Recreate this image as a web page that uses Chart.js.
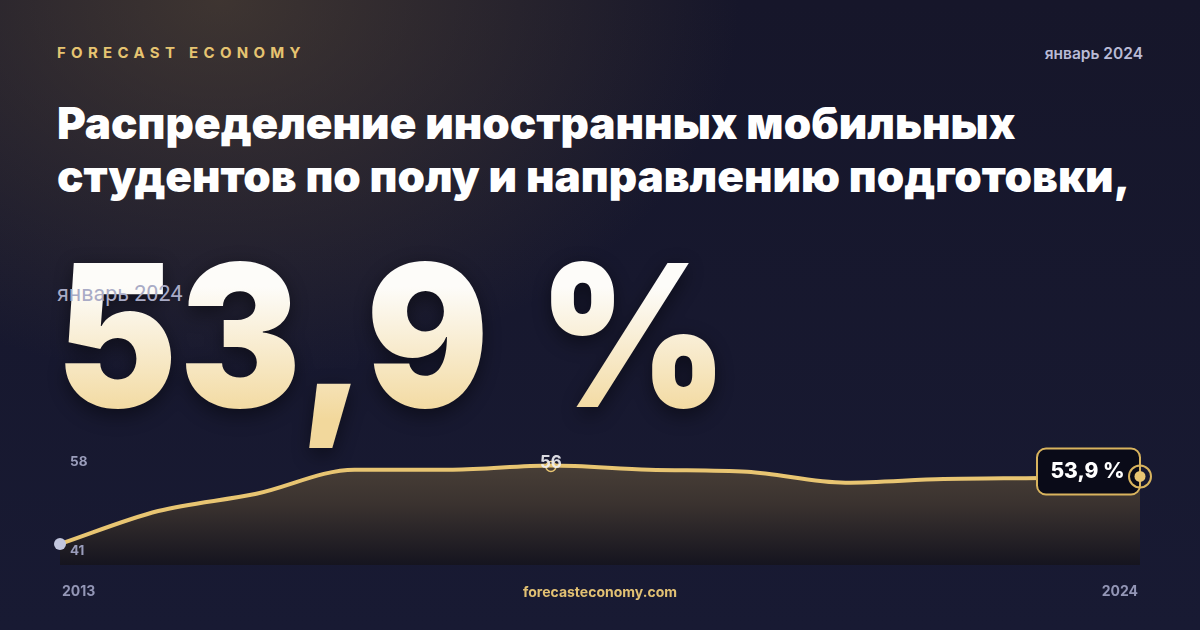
<!DOCTYPE html>
<html lang="ru">
<head>
<meta charset="utf-8">
<script src="https://cdn.jsdelivr.net/npm/chart.js@4/dist/chart.umd.min.js"></script>
<style>
    html, body { margin: 0; padding: 0; }
    body {
        width: 1200px;
        height: 630px;
        overflow: hidden;
        position: relative;
        font-family: Inter, "Noto Sans", sans-serif;
        background:
            radial-gradient(ellipse 520px 380px at 220px 0px, rgba(95, 78, 55, 0.55), rgba(95, 78, 55, 0) 100%),
            linear-gradient(180deg, #16162a 0%, #181a33 100%);
    }
    #brand {
        position: absolute; left: 57px; top: 43px;
        color: #e6c471; font-weight: 700; font-size: 15px; letter-spacing: 5.3px;
    }
    #date-top {
        position: absolute; right: 57px; top: 44px;
        color: #b9bbd6; font-weight: 600; font-size: 15.5px;
    }
    #title {
        position: absolute; left: 57px; top: 97px; width: 1140px;
        color: #ffffff; font-weight: 900; font-size: 44px; line-height: 53px;
        white-space: nowrap;
    }
    #big {
        position: absolute; left: 56px; top: 215px;
        font-family: Inter, sans-serif; font-weight: 900; font-size: 198px;
        line-height: 240px; letter-spacing: 2px; word-spacing: 10px; white-space: nowrap;
        transform: scaleX(0.92); transform-origin: 0 0;
        background: linear-gradient(180deg, #fdfcf9 30%, #f2d89c 85%);
        -webkit-background-clip: text; background-clip: text; color: transparent;
        filter: drop-shadow(0 6px 10px rgba(0, 0, 0, 0.45));
    }
    #date-small {
        position: absolute; left: 57px; top: 281px;
        font-family: Roboto, sans-serif;
        color: #a9abc6; font-size: 21.5px; font-weight: 400;
    }
    #site {
        position: absolute; left: 0; width: 1200px; top: 583px; text-align: center;
        color: #e2c173; font-weight: 700; font-size: 14px;
    }
    #chart { position: absolute; left: 0; top: 0; }
</style>
</head>
<body>
<div id="brand">FORECAST ECONOMY</div>
<div id="date-top">январь 2024</div>
<div id="title">Распределение иностранных мобильных<br>студентов по полу и направлению подготовки,</div>
<div id="big">53,9 %</div>
<div id="date-small">январь 2024</div>
<canvas id="chart" width="1200" height="630"></canvas>
<div id="site">forecasteconomy.com</div>
<script>
// доля, %, по годам
const years = ['2013', '2014', '2015', '2016', '2017', '2018', '2019', '2020', '2021', '2022', '2023', '2024'];
const shares = [41.0, 47.3, 50.6, 55.2, 55.2, 56.0, 55.2, 54.8, 52.7, 53.4, 53.6, 53.9];
const yTickLabels = [58, 41];
const peakLabel = '56';
const lastLabel = '53,9 %';

const gold = '#e8c572';

const overlay = {
    id: 'overlay',
    afterDatasetsDraw(chart) {
        const ctx = chart.ctx;
        const x = chart.scales.x;
        const y = chart.scales.y;
        const pts = chart.getDatasetMeta(0).data;

        ctx.save();
        // y labels (max of scale and min of data)
        ctx.font = '700 13.5px Inter';
        ctx.fillStyle = '#9a9dbb';
        ctx.textAlign = 'left';
        ctx.textBaseline = 'top';
        yTickLabels.forEach(v => ctx.fillText(String(v), 70, y.getPixelForValue(v)));

        // x labels, first and last
        ctx.font = '700 14px Inter';
        ctx.fillStyle = '#9396b6';
        ctx.textBaseline = 'middle';
        ctx.textAlign = 'left';
        ctx.fillText(years[0], x.getPixelForValue(0) + 2, 592);
        ctx.textAlign = 'right';
        ctx.fillText(years[years.length - 1], x.getPixelForValue(years.length - 1) - 2, 592);

        // first point
        const p0 = pts[0];
        ctx.fillStyle = '#c2c6de';
        ctx.beginPath();
        ctx.arc(p0.x, p0.y, 6, 0, Math.PI * 2);
        ctx.fill();

        // peak
        const iMax = shares.indexOf(Math.max(...shares));
        const pm = pts[iMax];
        ctx.strokeStyle = gold;
        ctx.lineWidth = 1.5;
        ctx.beginPath();
        ctx.arc(pm.x, pm.y + 1, 5, 0, Math.PI * 2);
        ctx.stroke();
        ctx.font = '700 17px Inter';
        ctx.fillStyle = 'rgba(240, 240, 245, 0.9)';
        ctx.textAlign = 'center';
        ctx.textBaseline = 'middle';
        ctx.fillText(peakLabel, pm.x, pm.y - 3);

        // last value badge
        const pl = pts[pts.length - 1];
        const bw = 103, bh = 46;
        const bx = pl.x - bw, by = pl.y - 28;
        ctx.fillStyle = '#0a0b18';
        ctx.strokeStyle = '#d9b45e';
        ctx.lineWidth = 2;
        ctx.beginPath();
        ctx.roundRect(bx, by, bw, bh, 9);
        ctx.fill();
        ctx.stroke();
        ctx.font = '800 21px Inter';
        ctx.fillStyle = '#ffffff';
        ctx.fillText(lastLabel, bx + bw / 2 - 1, by + bh / 2);

        ctx.fillStyle = gold;
        ctx.beginPath();
        ctx.arc(pl.x, pl.y, 5.5, 0, Math.PI * 2);
        ctx.fill();
        ctx.strokeStyle = '#d9b45e';
        ctx.lineWidth = 2;
        ctx.beginPath();
        ctx.arc(pl.x, pl.y, 11, 0, Math.PI * 2);
        ctx.stroke();
        ctx.restore();
    }
};

const ctx = document.getElementById('chart').getContext('2d');
new Chart(ctx, {
    type: 'line',
    data: {
        labels: years,
        datasets: [{
            data: shares,
            borderColor: gold,
            borderWidth: 4,
            tension: 0.4,
            cubicInterpolationMode: 'monotone',
            pointRadius: 0,
            clip: false,
            fill: 'start',
            backgroundColor: function (context) {
                const area = context.chart.chartArea;
                if (!area) return 'rgba(0,0,0,0)';
                const g = context.chart.ctx.createLinearGradient(0, area.top, 0, area.bottom);
                g.addColorStop(0, '#4c4239');
                g.addColorStop(0.45, '#3a322f');
                g.addColorStop(1, '#15141f');
                return g;
            }
        }]
    },
    options: {
        responsive: false,
        animation: false,
        layout: { padding: { left: 60, right: 60, top: 455, bottom: 65 } },
        scales: {
            x: { display: false, offset: false },
            y: { display: false, min: 37, max: 58 }
        },
        plugins: {
            legend: { display: false },
            tooltip: { enabled: false }
        }
    },
    plugins: [overlay]
});
</script>
</body>
</html>
